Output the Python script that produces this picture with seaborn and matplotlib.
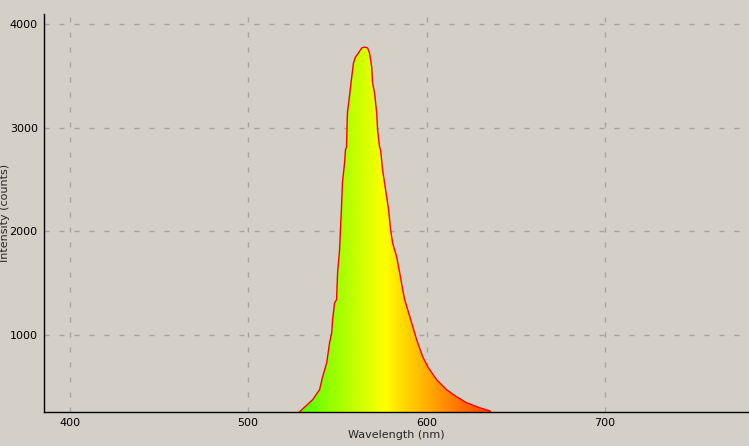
import numpy as np
import pandas as pd
import matplotlib
matplotlib.use('Agg')
import matplotlib.pyplot as plt
import seaborn as sns
from matplotlib.colors import LinearSegmentedColormap, Normalize
from matplotlib.ticker import MultipleLocator

# Spectrum (wavelength in nm, intensity in counts)
wavelength = [522.0, 529.4, 536.1, 540.0, 541.7, 544.0, 545.6, 546.8, 547.3, 548.4,
              549.5, 550.1, 551.2, 551.7, 552.3, 552.8, 554.0, 554.5, 555.1, 555.6,
              556.7, 557.8, 559.0, 560.1, 561.8, 563.6, 565.3, 566.9, 568.0, 569.2,
              569.7, 570.8, 572.0, 572.5, 573.6, 574.2, 575.3, 576.4, 577.6, 578.7,
              579.8, 580.9, 583.2, 584.9, 586.6, 587.7, 589.4, 591.6, 594.4, 597.8,
              600.6, 605.6, 611.2, 616.8, 622.4, 629.7, 635.3, 642.0]
intensity = [150, 267, 373, 470, 595, 730, 923, 1019, 1145, 1309,
             1338, 1598, 1820, 2013, 2234, 2466, 2659, 2784, 2813, 3141,
             3295, 3459, 3623, 3681, 3719, 3768, 3777, 3768, 3719, 3584,
             3430, 3334, 3141, 2977, 2813, 2784, 2591, 2466, 2331, 2205,
             2013, 1887, 1752, 1598, 1434, 1338, 1241, 1116, 952, 788,
             691, 566, 470, 402, 344, 296, 267, 150]

# colour of the fill along the wavelength axis
grad_wl = [522, 535, 545, 557, 568, 577, 585, 600, 619, 642]
grad_colors = ['#48ff00', '#60ff00', '#90ff00', '#b8ff00', '#e0ff00', '#ffff00',
               '#ffe000', '#ffb000', '#ff7000', '#ff3000']

x_ticks = [400, 500, 600, 700]
y_ticks = [1000, 2000, 3000, 4000]

df = pd.DataFrame({'Wavelength': wavelength, 'Intensity': intensity})

bg = '#d4d0c8'
sns.set_style('white')
plt.rcParams['font.family'] = ['DejaVu Sans']

fig = plt.figure(figsize=(7.49, 4.46), dpi=100, facecolor=bg)
ax = fig.add_axes([44 / 749, 1 - 412 / 446, 1 - 44 / 749, (412 - 14) / 446])
ax.set_facecolor(bg)

xlim = (385.6, 780.6)
ylim = (255, 4096)

# gradient fill clipped to the spectrum
poly = ax.fill_between(df['Wavelength'], df['Intensity'], ylim[0] - 200,
                       color='none', linewidth=0)
lo, hi = grad_wl[0], grad_wl[-1]
cmap = LinearSegmentedColormap.from_list(
    'spec', [((w - lo) / (hi - lo), c) for w, c in zip(grad_wl, grad_colors)])
grad = np.linspace(lo, hi, 600).reshape(1, -1)
img = ax.imshow(grad, extent=[lo, hi, ylim[0] - 200, 4000], aspect='auto',
                cmap=cmap, norm=Normalize(lo, hi), origin='lower', zorder=2)
img.set_clip_path(poly.get_paths()[0], transform=ax.transData)

sns.lineplot(data=df, x='Wavelength', y='Intensity', ax=ax, color='#ff0000',
             linewidth=1.0, sort=False, zorder=3)

ax.set_xlim(*xlim)
ax.set_ylim(*ylim)
ax.set_xticks(x_ticks)
ax.set_yticks(y_ticks)
ax.xaxis.set_minor_locator(MultipleLocator(50))
ax.yaxis.set_minor_locator(MultipleLocator(500))
ax.tick_params(which='both', direction='inout', colors='black', labelsize=8,
               width=1)
ax.tick_params(which='major', length=5, pad=2)
ax.tick_params(which='minor', length=4)
ax.grid(True, which='major', color='#a4a4a4', linewidth=1,
        linestyle=(0, (3.6, 7.2)))
ax.set_axisbelow(True)

for s in ['top', 'right']:
    ax.spines[s].set_visible(False)
for s in ['left', 'bottom']:
    ax.spines[s].set_color('black')
    ax.spines[s].set_linewidth(1)

ax.set_xlabel('Wavelength (nm)', fontsize=8, labelpad=1)
ax.set_ylabel('Intensity (counts)', fontsize=8)
ax.yaxis.set_label_coords(-34 / 705, 0.5)

fig.savefig('out.png', dpi=100, facecolor=bg)
